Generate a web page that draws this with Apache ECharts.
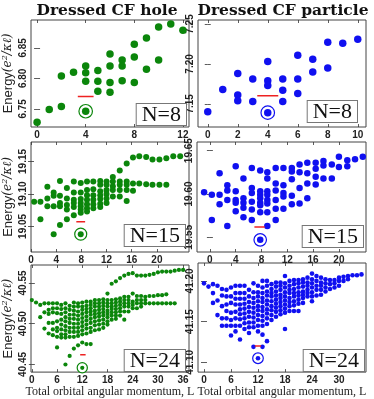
<!DOCTYPE html>
<html>
<head>
<meta charset="utf-8">
<script src="https://cdn.jsdelivr.net/npm/echarts@6/dist/echarts.min.js"></script>
<style>
  html, body { margin: 0; padding: 0; background: #fff; }
  #chart { width: 374px; height: 399px; }
</style>
</head>
<body>
<div id="chart"></div>
<script>
// ---- data: one column of energies per L value ----
// dressed CF hole, N=8
const hole8L = [0, 1, 2, 3, 4, 5, 6, 7, 8, 9, 10, 11, 12];
const hole8E = [
  [6.728], [6.749], [6.754, 6.804], [6.810], [6.820, 6.809, 6.795],
  [6.813, 6.795, 6.779], [6.840, 6.820, 6.793, 6.777], [6.830, 6.820, 6.796],
  [6.856, 6.835, 6.793], [6.866, 6.815], [6.884, 6.830], [6.889], [6.879]
];
const hole8GS = [4, 6.746];
const hole8Red = [3.35, 4.65, 6.770];

// dressed CF particle, N=8
const part8L = [0, 1, 2, 3, 4, 5, 6, 7, 8, 9, 10];
const part8E = [
  [7.140], [7.168], [7.188, 7.161, 7.154], [7.181, 7.153], [7.203, 7.179, 7.173],
  [7.181, 7.167, 7.153], [7.211, 7.181, 7.163], [7.206, 7.190], [7.227, 7.195],
  [7.226], [7.231]
];
const part8GS = [4, 7.139];
const part8Red = [3.3, 4.7, 7.160];

// dressed CF hole, N=15
const hole15L = [0.5, 1.5, 2.6, 3.6, 4.6, 5.7, 6.8, 7.9, 8.9, 9.9, 11.0, 12.0, 13.0, 14.1,
  15.2, 16.2, 17.2, 18.3, 19.3, 20.4, 21.5, 22.6, 23.7];
const hole15E = [
  [19.088], [19.088, 19.061], [19.111, 19.093, 19.081], [19.102, 19.097, 19.081, 19.038],
  [19.120, 19.097, 19.086, 19.081, 19.052],
  [19.109, 19.093, 19.083, 19.076, 19.061],
  [19.119, 19.102, 19.091, 19.086, 19.080, 19.067],
  [19.117, 19.102, 19.092, 19.086, 19.081, 19.076, 19.071],
  [19.119, 19.106, 19.098, 19.091, 19.084, 19.078, 19.073],
  [19.119, 19.107, 19.098, 19.091, 19.084, 19.078],
  [19.120, 19.114, 19.104, 19.098, 19.092, 19.085, 19.080],
  [19.119, 19.114, 19.106, 19.100, 19.093, 19.086],
  [19.126, 19.119, 19.112, 19.106, 19.096],
  [19.136, 19.119, 19.114, 19.106, 19.096],
  [19.147, 19.119, 19.114, 19.106, 19.089],
  [19.156, 19.116, 19.105], [19.158, 19.116], [19.157, 19.115], [19.153, 19.114],
  [19.153, 19.114], [19.155, 19.114], [19.158], [19.158]
];
const hole15GS = [7.9, 19.038];
const hole15Red = [7.2, 8.6, 19.057];

// dressed CF particle, N=15
const part15L = [-0.9, 0.3, 1.5, 2.7, 4.0, 5.2, 6.5, 7.8, 8.9, 10.2, 11.4, 12.7, 13.9,
  15.1, 16.4, 17.6, 18.9, 20.0, 21.3, 22.5, 23.7];
const part15E = [
  [19.602], [19.599, 19.570], [19.624, 19.599, 19.588], [19.610, 19.604, 19.593, 19.563],
  [19.632, 19.603, 19.593, 19.590, 19.580],
  [19.618, 19.595, 19.590, 19.584, 19.573],
  [19.630, 19.607, 19.601, 19.591, 19.582, 19.570],
  [19.627, 19.603, 19.599, 19.595, 19.590, 19.587, 19.579],
  [19.625, 19.618, 19.603, 19.599, 19.593, 19.589, 19.579, 19.563],
  [19.630, 19.612, 19.604, 19.593, 19.583, 19.570],
  [19.630, 19.610, 19.601, 19.597, 19.583],
  [19.630, 19.626, 19.617, 19.598, 19.588],
  [19.634, 19.625, 19.607, 19.589],
  [19.636, 19.624, 19.612, 19.595],
  [19.636, 19.629, 19.620, 19.611],
  [19.638, 19.633, 19.618], [19.634, 19.618], [19.643, 19.631], [19.639, 19.632],
  [19.640], [19.643]
];
const part15GS = [7.8, 19.547];
const part15Red = [6.9, 8.5, 19.562];

// dressed CF hole, N=24
const hole24L = [0, 1, 2, 3, 4, 5, 6, 7, 8, 9, 10, 11, 12, 13, 14, 15, 16, 17, 18, 19, 20,
  21, 22, 23, 24, 25, 26, 27, 28, 29, 30, 31, 32, 33, 34, 35, 36];
const hole24E = [
  [40.529], [40.526], [40.523, 40.508], [40.525, 40.514, 40.494],
  [40.525, 40.517, 40.512, 40.501, 40.488],
  [40.525, 40.519, 40.514, 40.501, 40.493, 40.486],
  [40.525, 40.519, 40.513, 40.503, 40.495, 40.491, 40.484, 40.471],
  [40.523, 40.518, 40.512, 40.505, 40.499, 40.493, 40.487, 40.483],
  [40.525, 40.519, 40.514, 40.508, 40.503, 40.497, 40.492, 40.487, 40.483, 40.450],
  [40.522, 40.517, 40.511, 40.506, 40.501, 40.495, 40.490, 40.484, 40.4605],
  [40.526, 40.521, 40.516, 40.511, 40.506, 40.500, 40.495, 40.490, 40.484, 40.4695],
  [40.525, 40.521, 40.515, 40.510, 40.505, 40.500, 40.495, 40.490, 40.485, 40.4735],
  [40.526, 40.521, 40.517, 40.512, 40.507, 40.502, 40.497, 40.492, 40.487, 40.477],
  [40.527, 40.522, 40.518, 40.514, 40.509, 40.504, 40.499, 40.494, 40.488, 40.475],
  [40.527, 40.523, 40.519, 40.515, 40.511, 40.506, 40.501, 40.495, 40.490, 40.475],
  [40.529, 40.525, 40.521, 40.516, 40.512, 40.508, 40.503, 40.498, 40.492],
  [40.529, 40.525, 40.521, 40.517, 40.513, 40.509, 40.504, 40.499, 40.493],
  [40.530, 40.526, 40.522, 40.518, 40.514, 40.510, 40.505, 40.500, 40.495],
  [40.537, 40.529, 40.525, 40.521, 40.516, 40.512, 40.508, 40.503, 40.499],
  [40.549, 40.529, 40.525, 40.521, 40.518, 40.514, 40.510, 40.505],
  [40.552, 40.530, 40.526, 40.522, 40.518, 40.514, 40.510, 40.506],
  [40.556, 40.531, 40.527, 40.523, 40.519, 40.515, 40.510],
  [40.559, 40.533, 40.529, 40.525, 40.521, 40.515, 40.505],
  [40.561, 40.533, 40.529, 40.525, 40.521, 40.515],
  [40.562, 40.537, 40.527, 40.523, 40.519],
  [40.559, 40.534, 40.529, 40.525, 40.519],
  [40.559, 40.534, 40.529, 40.525, 40.521],
  [40.559, 40.533, 40.529, 40.525],
  [40.560, 40.534, 40.525], [40.561, 40.534, 40.525], [40.563, 40.535, 40.525],
  [40.564, 40.535, 40.525], [40.564, 40.536, 40.525], [40.564, 40.525], [40.565, 40.525],
  [40.566], [40.566]
];
const hole24GS = [12, 40.446];
const hole24Red = [11.5, 12.8, 40.462];

// dressed CF particle, N=24
const part24L = [0, 1, 2, 3, 4, 5, 6, 7, 8, 9, 10, 11, 12, 13, 14, 15, 16, 17, 18, 19, 20,
  21, 22, 23, 24, 25, 26, 27, 28, 29, 30, 31, 32, 33, 34, 35];
const part24E = [
  [41.197], [41.193], [41.196, 41.185, 41.173], [41.194, 41.176, 41.158],
  [41.190, 41.182, 41.169, 41.154, 41.145],
  [41.189, 41.181, 41.171, 41.163, 41.154, 41.145],
  [41.192, 41.181, 41.173, 41.161, 41.152, 41.145, 41.133],
  [41.194, 41.185, 41.178, 41.171, 41.162, 41.154, 41.145, 41.138],
  [41.194, 41.185, 41.178, 41.171, 41.165, 41.159, 41.153, 41.145, 41.128],
  [41.194, 41.185, 41.178, 41.172, 41.166, 41.160, 41.154, 41.148, 41.141],
  [41.189, 41.181, 41.174, 41.168, 41.162, 41.156, 41.149, 41.143, 41.136],
  [41.197, 41.186, 41.179, 41.173, 41.167, 41.161, 41.155, 41.149, 41.143, 41.119],
  [41.194, 41.186, 41.181, 41.175, 41.169, 41.164, 41.158, 41.152, 41.145, 41.138],
  [41.200, 41.192, 41.185, 41.179, 41.174, 41.168, 41.163, 41.157, 41.151, 41.145, 41.134, 41.119],
  [41.200, 41.194, 41.187, 41.182, 41.176, 41.171, 41.165, 41.160, 41.154, 41.147, 41.126],
  [41.196, 41.190, 41.185, 41.181, 41.175, 41.169, 41.164, 41.158, 41.152],
  [41.198, 41.193, 41.187, 41.182, 41.177, 41.172, 41.167, 41.162, 41.156],
  [41.198, 41.194, 41.189, 41.183, 41.179, 41.174, 41.169, 41.164, 41.159],
  [41.206, 41.197, 41.192, 41.186, 41.181, 41.176, 41.171, 41.166, 41.161, 41.141],
  [41.200, 41.194, 41.189, 41.185, 41.179, 41.174, 41.169, 41.163],
  [41.201, 41.196, 41.190, 41.185, 41.181, 41.175, 41.170, 41.163],
  [41.201, 41.197, 41.192, 41.186, 41.182, 41.177, 41.172, 41.163],
  [41.202, 41.198, 41.193, 41.187, 41.183, 41.179, 41.173],
  [41.204, 41.198, 41.194, 41.189, 41.185, 41.181],
  [41.209, 41.202, 41.197, 41.192, 41.186, 41.181, 41.175],
  [41.206, 41.200, 41.194, 41.189, 41.182],
  [41.204, 41.198, 41.194, 41.189, 41.183],
  [41.202, 41.197, 41.192, 41.187],
  [41.201, 41.196, 41.190], [41.201, 41.197, 41.192], [41.204, 41.200, 41.194],
  [41.205, 41.200], [41.206, 41.202], [41.207], [41.207], [41.208]
];
const part24GS = [12, 41.105];
const part24Red = [11.3, 12.7, 41.120];

// tick values
const xTicks8h = [0, 4, 8, 12];
const xTicks8p = [0, 2, 4, 6, 8, 10];
const xTicks15 = [0, 4, 8, 12, 16, 20];
const xTicks24h = [0, 6, 12, 18, 24, 30, 36];
const xTicks24p = [0, 6, 12, 18, 24, 30];
const yTicks8h = [6.75, 6.80, 6.85];
const yTicks8p = [7.15, 7.20, 7.25];
const yTicks15h = [19.05, 19.10, 19.15];
const yTicks15p = [19.55, 19.60, 19.65];
const yTicks24h = [40.45, 40.50, 40.55];
const yTicks24p = [41.10, 41.15, 41.20];

const colTitles = ['Dressed CF hole', 'Dressed CF particle'];
const xTitle = 'Total orbital angular momentum, L';

const GREEN = '#0b860b';
const BLUE = '#1010f0';

const panels = [
  { L: hole8L, E: hole8E, gs: hole8GS, red: hole8Red, xt: xTicks8h, yt: yTicks8h,
    xr: [-0.5, 12.5], yr: [6.7202, 6.8956], box: [26, 20, 163, 107], c: GREEN, s: 7.5,
    tag: 'N=8', tagAt: [186, 125], left: true, bottom: false },
  { L: part8L, E: part8E, gs: part8GS, red: part8Red, xt: xTicks8p, yt: yTicks8p,
    xr: [-0.65, 10.55], yr: [7.121, 7.255], box: [198, 20, 168, 107], c: BLUE, s: 7.5,
    tag: 'N=8', tagAt: [357, 122], left: false, bottom: false },
  { L: hole15L, E: hole15E, gs: hole15GS, red: hole15Red, xt: xTicks15, yt: yTicks15h,
    xr: [0, 25.1], yr: [19.0105, 19.180], box: [26, 142, 163, 110], c: GREEN, s: 6,
    tag: 'N=15', tagAt: [185, 246], left: true, bottom: false },
  { L: part15L, E: part15E, gs: part15GS, red: part15Red, xt: xTicks15, yt: yTicks15p,
    xr: [-2.0, 24.2], yr: [19.533, 19.660], box: [197, 142, 169, 110], c: BLUE, s: 6.5,
    tag: 'N=15', tagAt: [363, 247], left: false, bottom: false },
  { L: hole24L, E: hole24E, gs: hole24GS, red: hole24Red, xt: xTicks24h, yt: yTicks24h,
    xr: [-0.2, 37.4], yr: [40.4407, 40.572], box: [26, 265, 163, 108], c: GREEN, s: 4.2,
    tag: 'N=24', tagAt: [185, 371], left: true, bottom: true },
  { L: part24L, E: part24E, gs: part24GS, red: part24Red, xt: xTicks24p, yt: yTicks24p,
    xr: [-1.33, 36], yr: [41.088, 41.222], box: [198, 263, 168, 110], c: BLUE, s: 4.6,
    tag: 'N=24', tagAt: [364, 371], left: false, bottom: true }
];

const grids = [], xAxes = [], yAxes = [], series = [], graphics = [];
const tickStyle = { show: true, inside: true, length: 3, lineStyle: { color: '#333', width: 0.8 } };

panels.forEach(function (p, i) {
  grids.push({ left: p.box[0], top: p.box[1], width: p.box[2], height: p.box[3],
    show: true, borderColor: '#444', borderWidth: 1, backgroundColor: '#fff' });
  // bottom + top x axes
  xAxes.push({
    type: 'value', gridIndex: i, min: p.xr[0], max: p.xr[1], position: 'bottom',
    splitLine: { show: false }, axisLine: { show: false },
    axisTick: Object.assign({ customValues: p.xt }, tickStyle),
    axisLabel: { customValues: p.xt, fontSize: 10, fontWeight: 'bold', color: '#222', margin: 3,
      fontFamily: 'Liberation Sans' },
    name: p.bottom ? xTitle : '', nameLocation: 'middle', nameGap: 13,
    nameTextStyle: { fontFamily: 'Liberation Serif', fontSize: 12, color: '#222' }
  });
  xAxes.push({
    type: 'value', gridIndex: i, min: p.xr[0], max: p.xr[1], position: 'top',
    splitLine: { show: false }, axisLine: { show: false },
    axisTick: Object.assign({ customValues: p.xt }, tickStyle), axisLabel: { show: false }
  });
  yAxes.push({
    type: 'value', gridIndex: i, min: p.yr[0], max: p.yr[1], position: 'left',
    splitLine: { show: false }, axisLine: { show: false },
    axisTick: Object.assign({ customValues: p.yt }, tickStyle),
    axisLabel: { customValues: p.yt, rotate: 90, fontSize: 10, fontWeight: 'bold', color: '#222',
      margin: 3, fontFamily: 'Liberation Sans', formatter: function (v) { return v.toFixed(2); } },
    name: p.left ? '{a|Energy}{b|(e}{s|2}{b|/κℓ)}' : '', nameLocation: 'middle', nameGap: 16,
    nameRotate: 90,
    nameTextStyle: { rich: {
      a: { fontFamily: 'Liberation Sans', fontSize: 13, color: '#222' },
      b: { fontFamily: 'DejaVu Serif', fontStyle: 'italic', fontSize: 12, color: '#222' },
      s: { fontFamily: 'DejaVu Serif', fontStyle: 'italic', fontSize: 8, color: '#222', padding: [0, 0, 6, 0] }
    } }
  });
  yAxes.push({
    type: 'value', gridIndex: i, min: p.yr[0], max: p.yr[1], position: 'right',
    splitLine: { show: false }, axisLine: { show: false },
    axisTick: Object.assign({ customValues: p.yt }, tickStyle), axisLabel: { show: false }
  });

  const pts = [];
  p.L.forEach(function (l, k) { p.E[k].forEach(function (e) { pts.push([l, e]); }); });
  const xi = 2 * i, yi = 2 * i;
  series.push({ type: 'line', xAxisIndex: xi, yAxisIndex: yi, showSymbol: false, silent: true,
    data: [[p.red[0], p.red[2]], [p.red[1], p.red[2]]], lineStyle: { color: '#ee2222', width: 1.5 } });
  series.push({ type: 'scatter', xAxisIndex: xi, yAxisIndex: yi, data: pts, symbolSize: p.s,
    itemStyle: { color: p.c, opacity: 1 } });
  series.push({ type: 'scatter', xAxisIndex: xi, yAxisIndex: yi, data: [p.gs], symbolSize: p.s + 6,
    itemStyle: { color: '#fff', borderColor: p.c, borderWidth: 1.2, opacity: 1 } });
  series.push({ type: 'scatter', xAxisIndex: xi, yAxisIndex: yi, data: [p.gs], symbolSize: p.s,
    itemStyle: { color: p.c, opacity: 1 } });

  graphics.push({ type: 'text', x: p.tagAt[0], y: p.tagAt[1], z: 100,
    style: { text: p.tag, align: 'right', verticalAlign: 'bottom',
      font: '22px "Liberation Serif"', fill: '#111', backgroundColor: '#fff',
      borderColor: '#777', borderWidth: 1, padding: [0, 5, -1, 5] } });
});

graphics.push({ type: 'text', x: 107, y: 11, style: { text: colTitles[0], align: 'center',
  verticalAlign: 'middle', font: 'bold 15.5px "DejaVu Serif"', fill: '#111' } });
graphics.push({ type: 'text', x: 283, y: 11, style: { text: colTitles[1], align: 'center',
  verticalAlign: 'middle', font: 'bold 15.5px "DejaVu Serif"', fill: '#111' } });

const chart = echarts.init(document.getElementById('chart'), null, { renderer: 'canvas' });
chart.setOption({
  animation: false,
  backgroundColor: '#fff',
  grid: grids,
  xAxis: xAxes,
  yAxis: yAxes,
  series: series,
  graphic: graphics
});
</script>
</body>
</html>
